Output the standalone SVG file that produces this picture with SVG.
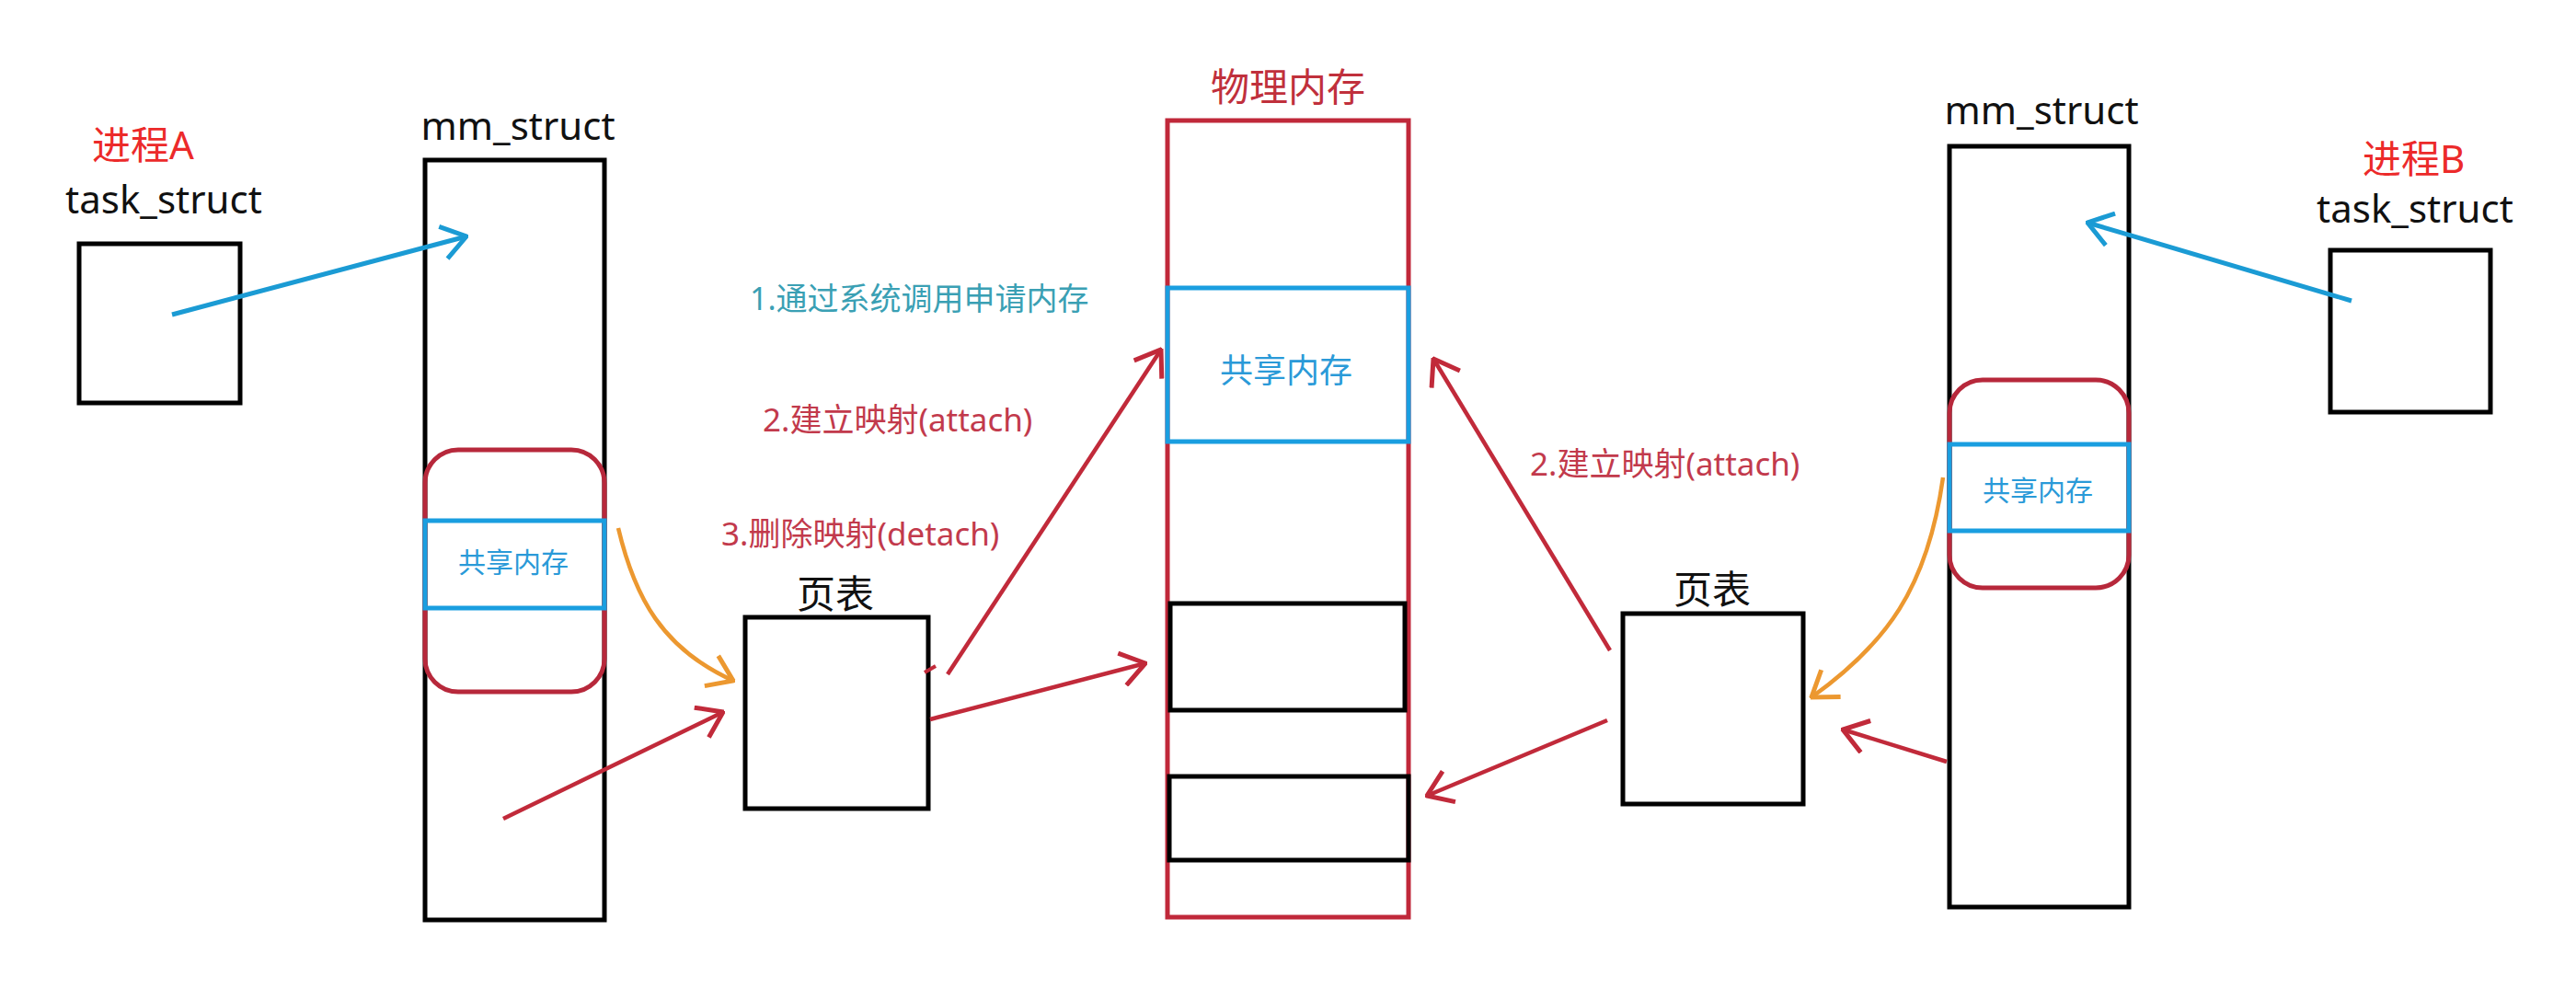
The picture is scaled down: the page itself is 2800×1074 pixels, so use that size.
<svg xmlns="http://www.w3.org/2000/svg" width="2800" height="1074" viewBox="0 0 2800 1074">
<style>
text{font-family:"Noto Sans","Noto Sans CJK SC",sans-serif}
.lbl{font-size:42px;fill:#111}
.proc{font-size:42px;fill:#ec2a2a}
.box{fill:none;stroke:#000;stroke-width:5}
.rbox{fill:none;stroke:#c0283a;stroke-width:5}
.shr{fill:none;stroke:#b7283b;stroke-width:5}
.blu{fill:none;stroke:#1a9ee0;stroke-width:5}
.shtxt{fill:#2a9ad8}
.step{font-size:35px;fill:#c23a4c}
.step1{font-size:34px;fill:#3aa0b4}
.cb{fill:none;stroke:#1b9bd4;stroke-width:5;marker-end:url(#ab)}
.cr{fill:none;stroke:#c12a3a;stroke-width:4.5;marker-end:url(#ar)}
.co{fill:none;stroke:#ec9830;stroke-width:4.5;marker-end:url(#ao)}
</style>
<defs>
<marker id="ab" viewBox="0 0 30 40" refX="28" refY="20" markerWidth="30" markerHeight="40" markerUnits="userSpaceOnUse" orient="auto"><path d="M2,2 L28,20 L2,38" fill="none" stroke="#1b9bd4" stroke-width="5"/></marker>
<marker id="ar" viewBox="0 0 30 40" refX="28" refY="20" markerWidth="30" markerHeight="40" markerUnits="userSpaceOnUse" orient="auto"><path d="M2,2 L28,20 L2,38" fill="none" stroke="#c12a3a" stroke-width="5"/></marker>
<marker id="ao" viewBox="0 0 30 40" refX="28" refY="20" markerWidth="30" markerHeight="40" markerUnits="userSpaceOnUse" orient="auto"><path d="M2,2 L28,20 L2,38" fill="none" stroke="#ec9830" stroke-width="5"/></marker>
</defs>
<rect width="2800" height="1074" fill="#fff"/>

<g id="procA">
<text class="proc" x="100" y="173">进程A</text>
<text class="lbl" x="178" y="232" text-anchor="middle">task_struct</text>
<rect class="box" x="86" y="265" width="175" height="173"/>
</g>

<g id="mmA">
<text class="lbl" x="563" y="152" text-anchor="middle">mm_struct</text>
<rect class="box" x="462" y="174" width="195" height="826"/>
<rect class="shr" x="462" y="489" width="195" height="263" rx="36"/>
<rect class="blu" x="462" y="566" width="195" height="95"/>
<text class="shtxt" x="558" y="622" font-size="30" text-anchor="middle">共享内存</text>
</g>

<g id="ptA">
<text class="lbl" x="908" y="661" text-anchor="middle">页表</text>
<rect class="box" x="810" y="671" width="199" height="208"/>
</g>

<g id="phys">
<text x="1400" y="110" font-size="42" fill="#c0303c" text-anchor="middle">物理内存</text>
<rect class="rbox" x="1269" y="131" width="262" height="866"/>
<rect class="blu" x="1269" y="313" width="262" height="167"/>
<text class="shtxt" x="1398" y="416" font-size="36" text-anchor="middle">共享内存</text>
<rect class="box" x="1272" y="656" width="255" height="116"/>
<rect class="box" x="1271" y="844" width="260" height="91"/>
</g>

<g id="labels">
<text class="step1" x="815" y="337">1.通过系统调用申请内存</text>
<text class="step" x="829" y="469">2.建立映射(attach)</text>
<text class="step" x="784" y="593">3.删除映射(detach)</text>
<text class="step" x="1663" y="517">2.建立映射(attach)</text>
</g>

<g id="ptB">
<text class="lbl" x="1861" y="656" text-anchor="middle">页表</text>
<rect class="box" x="1764" y="667" width="196" height="207"/>
</g>

<g id="mmB">
<text class="lbl" x="2219" y="135" text-anchor="middle">mm_struct</text>
<rect class="box" x="2119" y="159" width="195" height="827"/>
<rect class="shr" x="2119" y="413" width="195" height="226" rx="36"/>
<rect class="blu" x="2119" y="483" width="195" height="94"/>
<text class="shtxt" x="2215" y="544" font-size="30" text-anchor="middle">共享内存</text>
</g>

<g id="procB">
<text class="proc" x="2568" y="188">进程B</text>
<text class="lbl" x="2625" y="242" text-anchor="middle">task_struct</text>
<rect class="box" x="2533" y="272" width="174" height="176"/>
</g>

<g id="connectors">
<path class="cb" d="M187,342 L507,257"/>
<path class="co" d="M672,574 C690,650 720,705 797,740"/>
<path class="cr" d="M547,890 L786,774"/>
<path class="cr" d="M1030,733 L1262,380"/>
<path d="M1005,731 L1017,724" fill="none" stroke="#c12a3a" stroke-width="4"/>
<path class="cr" d="M1011,782 L1245,721"/>
<path class="cr" d="M1750,707 L1558,390"/>
<path class="cr" d="M1747,783 L1551,865"/>
<path class="co" d="M2112,519 C2095,640 2050,700 1969,758"/>
<path class="cr" d="M2116,828 L2003,793"/>
<path class="cb" d="M2556,327 L2269,242"/>
</g>
</svg>
